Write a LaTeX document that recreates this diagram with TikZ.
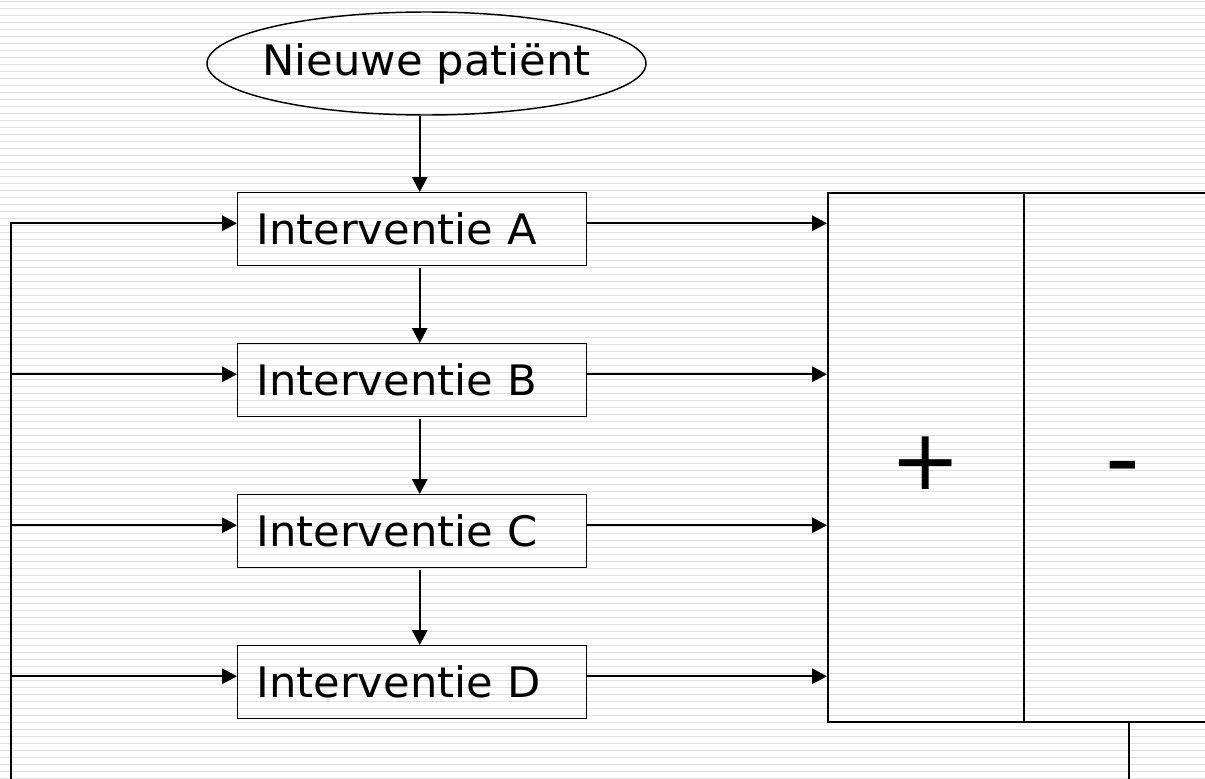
\documentclass[tikz,border=0pt]{standalone}
\usepackage{fontspec}
\setmainfont{DejaVu Sans}[FakeStretch=1.03]
\newfontfamily\signfont{DejaVu Sans}
\usetikzlibrary{arrows.meta,shapes.geometric}
\begin{document}
\begin{tikzpicture}[x=0.75pt,y=-0.75pt,
  bgline/.style={black!13,line width=0.8pt},
  lbl/.style={font=\fontsize{31.5}{36}\selectfont},
  ibox/.style={lbl,draw,line width=1.1pt,rectangle,anchor=north west,
    minimum height=54.75pt,inner xsep=14pt,text width=233.75pt,align=left},
  cell/.style={draw,line width=1.2pt,rectangle,anchor=north west,
    minimum height=396.75pt,inner sep=0pt},
  conn/.style={line width=1.5pt},
  arr/.style={conn,-{Triangle[length=11.25pt,width=11.5pt]}}]
\useasboundingbox (0,0) rectangle (1205,778);
% striped background
\foreach \k in {0,...,111}
  \draw[bgline] (0,{1.3+7*\k}) -- (1205,{1.3+7*\k});
% start node
\node[lbl,draw,ellipse,line width=1.1pt,minimum width=329.25pt,
  minimum height=77.25pt,inner sep=0pt] (np) at (426.5,63.5)
  {\makebox[0pt]{Nieuwe patiënt}};
% intervention boxes
\node[ibox] (A) at (237,192) {Interventie A};
\node[ibox] (B) at (237,343) {Interventie B};
\node[ibox] (C) at (237,494) {Interventie C};
\node[ibox] (D) at (237,645) {Interventie D};
% outcome box
\node[cell,minimum width=147pt] (plus) at (827,192) {};
\node[cell,minimum width=149.25pt] (minus) at (1023,192) {};
\node[font=\signfont\fontsize{63}{70}\selectfont,inner sep=0pt] (ps) at (925.5,463) {+};
\node[font=\signfont\fontsize{72}{80}\selectfont,inner sep=0pt,anchor=base] (ms) at (1122.5,491.5) {-};
% free ends
\coordinate (Lb) at (11,780);
\coordinate (Rb) at (1129,780);
% vertical flow
\draw[arr] ([xshift=5.625pt]A.north |- np.south) -- ([xshift=5.625pt]A.north);
\draw[arr] ([xshift=5.625pt,yshift=-1.5pt]A.south) -- ([xshift=5.625pt]B.north);
\draw[arr] ([xshift=5.625pt,yshift=-1.5pt]B.south) -- ([xshift=5.625pt]C.north);
\draw[arr] ([xshift=5.625pt,yshift=-1.5pt]C.south) -- ([xshift=5.625pt]D.north);
% to outcome box
\foreach \n in {A,B,C,D}
  \draw[arr] ([yshift=4.5pt]\n.east) -- ([yshift=4.5pt]\n.east -| plus.west);
% feedback loop
\draw[arr] (Lb) |- ([yshift=4.5pt]A.west);
\foreach \n in {B,C,D}
  \draw[arr] ([yshift=4.5pt]\n.west -| Lb) -- ([yshift=4.5pt]\n.west);
\draw[conn] (Rb |- minus.south) -- (Rb);
\end{tikzpicture}
\end{document}
